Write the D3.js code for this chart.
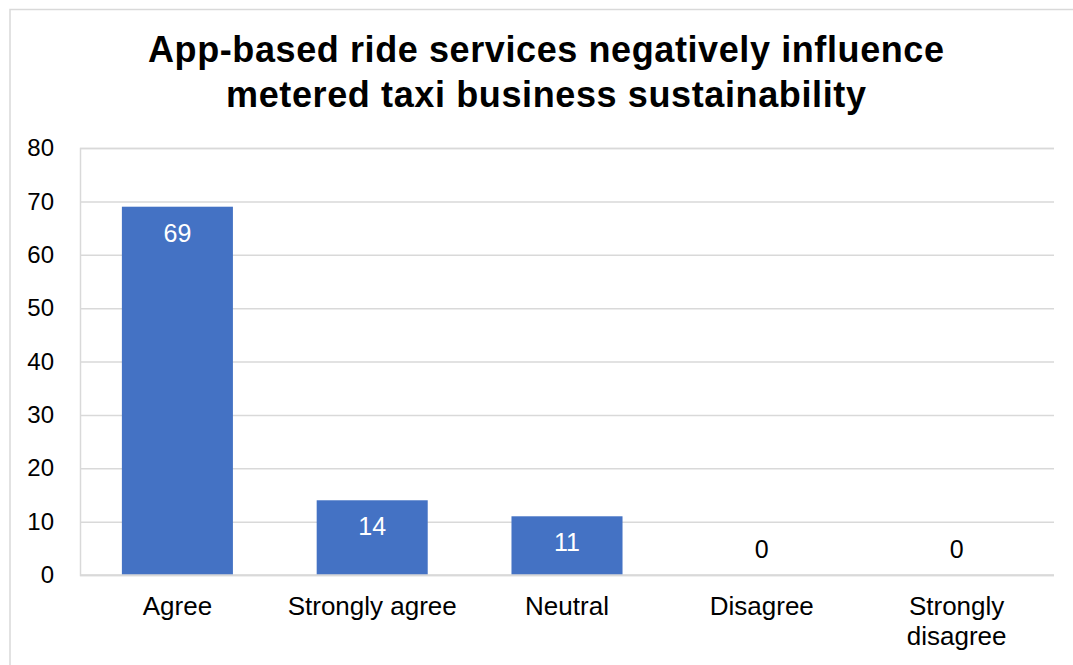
<!DOCTYPE html>
<html><head><meta charset="utf-8">
<script src="https://cdn.jsdelivr.net/npm/d3@7"></script>
<style>body{margin:0;background:#fff}svg{display:block}text{font-family:"Liberation Sans",Arial,sans-serif}</style>
</head><body><svg id="c" width="1073" height="665"></svg>
<script>
const categories = ["Agree", "Strongly agree", "Neutral", "Disagree", "Strongly disagree"];
const values = [69, 14, 11, 0, 0];
const yTicks = [0, 10, 20, 30, 40, 50, 60, 70, 80];
const titleLines = ["App-based ride services negatively influence", "metered taxi business sustainability"];

const svg = d3.select("#c");
const W = 1073, H = 665;
const m = {left: 80, right: 1054, top: 148, bottom: 575};

svg.append("rect").attr("x", 10).attr("y", 9.5).attr("width", W + 20).attr("height", H + 20)
  .attr("fill", "#fff").attr("stroke", "#d9d9d9").attr("stroke-width", 1.5);

const x = d3.scaleBand().domain(categories).range([m.left, m.right]).paddingInner(0.43).paddingOuter(0.215);
const y = d3.scaleLinear().domain([0, 80]).range([m.bottom, m.top]);

// gridlines
const yAxis = d3.axisLeft(y).tickValues(yTicks).tickSize(-(m.right - m.left)).tickPadding(26);
const ga = svg.append("g").attr("transform", `translate(${m.left},0)`).call(yAxis);
ga.select(".domain").attr("stroke", "#d9d9d9").attr("stroke-width", 1.5);
ga.selectAll(".tick line").attr("stroke", "#d9d9d9").attr("stroke-width", 1.5);
ga.selectAll(".tick text").attr("font-size", 24).attr("fill", "#000").attr("font-family", "Liberation Sans, Arial, sans-serif");

// bars
svg.selectAll("rect.bar").data(values).join("rect").attr("class", "bar")
  .attr("x", (d, i) => x(categories[i])).attr("width", x.bandwidth())
  .attr("y", d => y(d)).attr("height", d => y(0) - y(d))
  .attr("fill", "#4472C4");

// value labels
svg.selectAll("text.val").data(values).join("text").attr("class", "val")
  .attr("x", (d, i) => x(categories[i]) + x.bandwidth() / 2)
  .attr("y", d => d > 3 ? y(d) + 35 : y(d) - 17)
  .attr("text-anchor", "middle").attr("font-size", 25)
  .attr("fill", d => d > 3 ? "#fff" : "#000")
  .text(d => d);

// category labels
const xAxis = d3.axisBottom(x).tickSize(0).tickPadding(0);
const gx = svg.append("g").attr("transform", `translate(0,${m.bottom})`).call(xAxis);
gx.select(".domain").attr("stroke", "#d9d9d9").attr("stroke-width", 1.5).attr("d", `M${m.left},0H${m.right}`);
gx.selectAll(".tick text").remove();
gx.selectAll(".tick").each(function(d) {
  const words = d === "Strongly disagree" ? ["Strongly", "disagree"] : [d];
  const t = d3.select(this).append("text").attr("text-anchor", "middle").attr("font-size", 26)
    .attr("fill", "#000").attr("font-family", "Liberation Sans, Arial, sans-serif");
  words.forEach((w, i) => t.append("tspan").attr("x", 0).attr("y", 40 + i * 30).text(w));
});

// title
const titleWidths = [796, 640];
titleLines.forEach((l, i) => {
  svg.append("text").attr("text-anchor", "middle").attr("font-size", 36).attr("font-weight", "bold").attr("fill", "#000")
    .attr("x", 546).attr("y", 62 + i * 45)
    .attr("textLength", titleWidths[i]).attr("lengthAdjust", "spacing")
    .text(l);
});
</script></body></html>
